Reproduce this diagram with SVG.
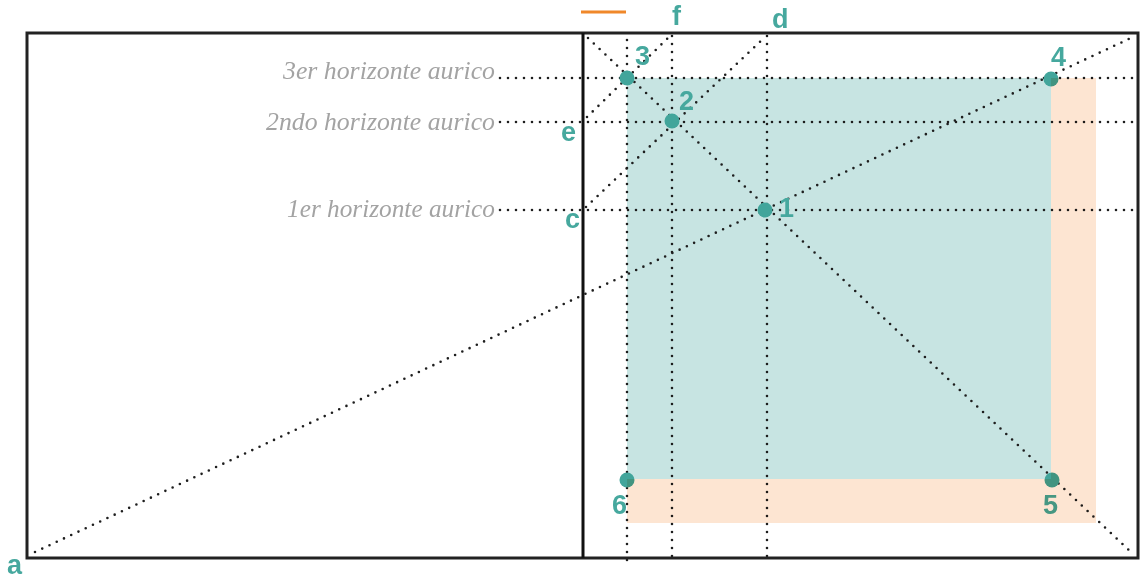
<svg xmlns="http://www.w3.org/2000/svg" width="1142" height="579" viewBox="0 0 1142 579">
<style>
.dot{fill:none;stroke:#1e1e1e;stroke-width:2.6;stroke-linecap:round;stroke-dasharray:0 8}
.frame{fill:none;stroke:#222;stroke-width:3}
.pt{fill:#42a59b}
.lbl{font-family:"Liberation Sans",Arial,sans-serif;font-weight:bold;font-size:27px;fill:#46a89e}
.hz{font-family:"Liberation Serif","Times New Roman",serif;font-style:italic;font-size:25px;fill:#a3a3a3}
</style>
<rect width="1142" height="579" fill="#fff"/>
<g id="areas">
<rect x="627" y="78" width="424" height="401" fill="#c7e4e2"/>
</g>
<line x1="581" y1="12" x2="626" y2="12" stroke="#f0882a" stroke-width="3"/>
<g id="connectors">
<line class="dot" x1="500" y1="78" x2="1136" y2="78"/>
<line class="dot" x1="500" y1="122" x2="1136" y2="122"/>
<line class="dot" x1="500" y1="210" x2="1136" y2="210"/>
<line class="dot" x1="627" y1="40" x2="627" y2="562"/>
<line class="dot" x1="672" y1="36" x2="672" y2="562"/>
<line class="dot" x1="767" y1="36" x2="767" y2="562"/>
<line class="dot" x1="35" y1="552" x2="1133" y2="37"/>
<line class="dot" x1="588" y1="38" x2="1133" y2="554"/>
<line class="dot" x1="586" y1="207" x2="765" y2="37"/>
<line class="dot" x1="587" y1="117" x2="670" y2="36"/>
</g>
<g id="frame">
<rect class="frame" x="27" y="33" width="1111" height="525"/>
<line x1="583" y1="33" x2="583" y2="558" stroke="#111" stroke-width="3"/>
</g>
<g id="labels">
<text class="hz" x="495" y="79" text-anchor="end" textLength="212" lengthAdjust="spacingAndGlyphs">3er horizonte aurico</text>
<text class="hz" x="495" y="130" text-anchor="end" textLength="229" lengthAdjust="spacingAndGlyphs">2ndo horizonte aurico</text>
<text class="hz" x="495" y="217" text-anchor="end" textLength="208" lengthAdjust="spacingAndGlyphs">1er horizonte aurico</text>
</g>
<g id="letters">
<text id="la" class="lbl" x="7" y="574">a</text>
<text id="lc" class="lbl" x="565" y="228">c</text>
<text id="ld" class="lbl" x="772" y="28">d</text>
<text id="le" class="lbl" x="561" y="141">e</text>
<text id="lf" class="lbl" x="672" y="25">f</text>
</g>
<g id="p1"><circle class="pt" cx="765" cy="210" r="7.5"/><text class="lbl" x="779" y="217">1</text></g>
<g id="p2"><circle class="pt" cx="672" cy="121" r="7.5"/><text class="lbl" x="679" y="110">2</text></g>
<g id="p3"><circle class="pt" cx="627" cy="78" r="7.5"/><text class="lbl" x="635" y="65">3</text></g>
<g id="p4"><circle class="pt" cx="1051" cy="79" r="7.5"/><text class="lbl" x="1051" y="66">4</text></g>
<g id="p5"><circle class="pt" cx="1052" cy="480" r="7.5"/><text class="lbl" x="1043" y="514">5</text></g>
<g id="p6"><circle class="pt" cx="627" cy="480" r="7.5"/><text class="lbl" x="612" y="514">6</text></g>
<g id="overlay" style="mix-blend-mode:multiply">
<path d="M1051,78 H1096 V523 H627 V479 H1051 Z" fill="#fde5d2"/>
</g>
</svg>
